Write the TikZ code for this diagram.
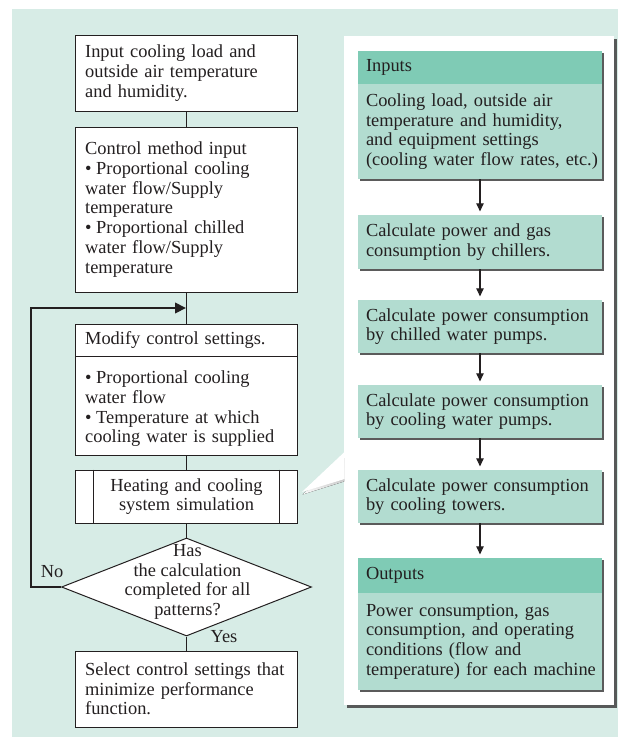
\documentclass[tikz,border=0pt]{standalone}
\usepackage{fontspec}
\setmainfont{Liberation Serif}
\usetikzlibrary{arrows.meta,positioning,calc,shapes.geometric,shadows}
\definecolor{ink}{HTML}{231F20}
\definecolor{wash}{HTML}{D7ECE6}
\definecolor{tealhead}{HTML}{7FCBB5}
\definecolor{tealbody}{HTML}{B2DCD0}
\definecolor{shade}{HTML}{4A4A4A}
\newcommand{\itm}{\par\hangindent=8.3pt\hangafter=1\noindent\makebox[8.3pt][l]{\textbullet}}
\newcommand{\keeplines}{\rightskip=0pt plus 1fil minus 12pt\relax\hyphenpenalty=10000\relax}

\begin{document}
\begin{tikzpicture}[x=.75pt,y=-.75pt,>=Latex,every node/.style={font=\fontsize{13.8}{14.8}\selectfont,text=ink},
  plainbox/.style={draw=ink,fill=white,line width=.75pt,text width=152pt,inner xsep=6.9pt,inner ysep=0pt,minimum width=165.75pt},
  box/.style={plainbox,align=left,execute at begin node=\keeplines},
  calcbox/.style={fill=tealbody,align=left,text width=171pt,inner xsep=6pt,inner ysep=0pt,minimum width=183pt,execute at begin node=\keeplines,drop shadow={shadow xshift=1.6pt,shadow yshift=-1.6pt,fill=shade,opacity=.9}},
  headbox/.style={calcbox,fill=tealhead},
  link/.style={draw=ink,line width=1pt},
  flowarrow/.style={-{Triangle[width=5.5pt,length=6pt]},ink,line width=.8pt,shorten >=2.5pt}]
\path[use as bounding box] (0,0) rectangle (630,747);
\fill[wash] (12,9) rectangle (618,737);

% left column
\node[box,minimum height=57pt] (load) at (186.5,73) {Input cooling load and\\outside air temperature\\and humidity.};
\node[box,minimum height=123.75pt] (method) at (186.5,209.5) {Control method input\itm Proportional cooling\\water flow/Supply\\temperature\itm Proportional chilled\\water flow/Supply\\temperature};
\node[box,minimum height=24pt] (modhead) at (186.5,340) {Modify control settings.};
\node[box,minimum height=74.25pt] (modbody) at (186.5,405.5) {\itm Proportional cooling\\water flow\itm Temperature at which\\cooling water is supplied};
\node[plainbox,align=center,minimum height=39.75pt] (sim) at (186.5,496.5) {Heating and cooling\\system simulation};
\draw[ink,line width=.75pt] ([xshift=13.5pt]sim.north west) -- ([xshift=13.5pt]sim.south west)
  ([xshift=-13.5pt]sim.north east) -- ([xshift=-13.5pt]sim.south east);
\node[diamond,draw=ink,fill=white,line width=.75pt,minimum width=187.5pt,minimum height=73.5pt,inner sep=0pt] (done) at (186.5,587) {};
\node[align=center] (donetext) at (187.5,582) {Has\\the calculation\\completed for all\\patterns?};
\node (no) at (52,572) {No};
\node (yes) at (224,637) {Yes};
\node[box,minimum height=57pt] (select) at (186.5,689) {Select control settings that\\minimize performance\\function.};

\coordinate (loopin) at ($(method.south)!.5!(modhead.north)$);
\draw[link] (load) -- (method);
\draw[link] (method) -- (modhead);
\draw[link] (modbody) -- (sim);
\draw[link] (sim) -- (done);
\draw[link] (done) -- (select);
\draw[link,-{Triangle[width=8pt,length=8pt]},shorten >=.5pt] (done.west) -- ++(-30,0) |- (loopin);

% right panel
\node[fill=white,minimum width=202.5pt,minimum height=501.75pt,inner sep=0pt,drop shadow={shadow xshift=2.2pt,shadow yshift=-2.6pt,fill=shade,opacity=.9}] (panel) at (479,370.5) {};
\fill[shade] (302.5,494.5) -- (344,481.5) -- (344,458) -- cycle;
\fill[white] (302,492) -- (344.5,452) -- (344.5,479) -- cycle;

\node[headbox,minimum height=24.75pt] (inhead) at (480,67.5) {Inputs};
\node[calcbox,minimum height=71.25pt] (inbody) at (480,131.5) {Cooling load, outside air\\temperature and humidity,\\and equipment settings\\(cooling water flow rates, etc.)};
\node[calcbox,minimum height=40.5pt] (chiller) at (480,242) {Calculate power and gas\\consumption by chillers.};
\node[calcbox,minimum height=39.75pt] (chwpump) at (480,326.5) {Calculate power consumption\\by chilled water pumps.};
\node[calcbox,minimum height=39.75pt] (cwpump) at (480,411.5) {Calculate power consumption\\by cooling water pumps.};
\node[calcbox,minimum height=39.75pt] (tower) at (480,496.5) {Calculate power consumption\\by cooling towers.};
\node[headbox,minimum height=26.25pt] (outhead) at (480,575.5) {Outputs};
\node[calcbox,minimum height=72.75pt] (outbody) at (480,641.5) {Power consumption, gas\\consumption, and operating\\conditions (flow and\\temperature) for each machine};

\foreach \a/\b in {inbody/chiller,chiller/chwpump,chwpump/cwpump,cwpump/tower,tower/outhead}
  \draw[flowarrow] (\a) -- (\b);

\end{tikzpicture}
\end{document}
